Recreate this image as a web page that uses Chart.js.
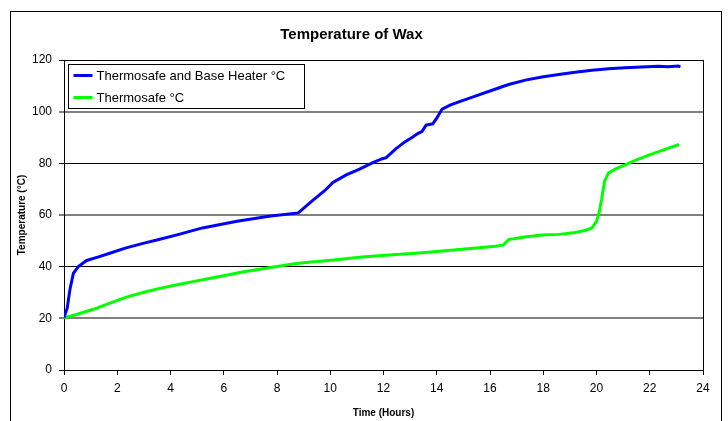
<!DOCTYPE html>
<html>
<head>
<meta charset="utf-8">
<title>Temperature of Wax</title>
<script src="https://cdn.jsdelivr.net/npm/chart.js@4/dist/chart.umd.min.js"></script>
<style>
  html, body { margin: 0; padding: 0; background: #fff; }
  canvas { display: block; }
</style>
</head>
<body>
<canvas id="chart" width="728" height="421"></canvas>
<script>
// values (hours, °C)
const blueHours = [0, 0.12, 0.22, 0.35, 0.54, 0.85, 1.3, 1.72, 2.3, 2.97, 3.6, 4.28, 5.2, 6.5, 7.7, 8.8,
  9.3, 9.8, 10.1, 10.6, 11.1, 11.6, 11.96, 12.1, 12.46, 12.8, 13.1, 13.27, 13.45, 13.6, 13.85, 14.0,
  14.2, 14.5, 14.83, 15.5, 16.08, 16.7, 17.33, 17.95, 18.58, 19.2, 19.83, 20.45, 21.07, 21.7, 22.32,
  22.7, 23.07, 23.15];
const blueTemps = [20.3, 23.9, 31, 37.4, 40, 42.4, 43.8, 45.2, 47.2, 49, 50.6, 52.4, 55, 57.6, 59.5, 60.8,
  65.3, 69.5, 72.6, 75.5, 77.8, 80.3, 81.8, 82.2, 85.6, 88.3, 90.2, 91.4, 92.4, 94.8, 95.3, 97.5,
  101, 102.5, 103.8, 106.2, 108.3, 110.5, 112.2, 113.4, 114.4, 115.3, 116, 116.6, 117, 117.3, 117.6,
  117.4, 117.7, 117.3];

const greenHours = [0, 0.5, 1.1, 1.7, 2.35, 3, 3.6, 4.2, 4.84, 5.5, 6.09, 6.7, 7.34, 8, 8.59, 9.2, 9.84,
  10.5, 11.09, 11.8, 12.5, 13.2, 14, 14.83, 15.6, 16.2, 16.5, 16.7, 17.3, 17.95, 18.6, 19.2, 19.6,
  19.83, 20, 20.1, 20.2, 20.3, 20.45, 20.7, 21.07, 21.5, 22.07, 22.6, 23.1];
const greenTemps = [20.2, 21.6, 23.5, 25.8, 28.2, 30.1, 31.6, 32.9, 34.2, 35.5, 36.7, 37.9, 39, 40.1, 41, 41.7, 42.3,
  43, 43.6, 44.2, 44.7, 45.2, 45.9, 46.6, 47.3, 47.9, 48.4, 50.5, 51.5, 52.3, 52.5, 53.2, 54.1,
  55, 57.5, 61, 66.5, 73, 76.2, 77.8, 79.4, 81.3, 83.6, 85.5, 87.3];

const seriesLabels = ["Thermosafe and Base Heater °C", "Thermosafe °C"];
const xTicks = { min: 0, max: 24, step: 2 };
const yTicks = { min: 0, max: 120, step: 20 };

const FONT = "Arial, 'Liberation Sans', sans-serif";
const toPoints = (xs, ys) => xs.map((x, i) => ({ x, y: ys[i] }));
// every other gridline is a heavier grey one in the original
const isGrey = (v) => (v / yTicks.step) % 2 === 1;

// outer frame + right edge of the plot
const framePlugin = {
  id: "frame",
  beforeDraw(chart) {
    const c = chart.ctx;
    c.save();
    c.fillStyle = "#fff";
    c.fillRect(0, 0, chart.width, chart.height);
    c.strokeStyle = "#000";
    c.lineWidth = 1;
    c.strokeRect(10.5, 11.5, 711, 430);
    c.restore();
  },
  afterDraw(chart) {
    const { right, top, bottom } = chart.chartArea;
    const c = chart.ctx;
    c.save();
    c.strokeStyle = "#000";
    c.lineWidth = 1;
    c.beginPath();
    c.moveTo(Math.round(right) + 0.5, top);
    c.lineTo(Math.round(right) + 0.5, bottom);
    c.stroke();
    c.restore();
  },
};

// boxed legend inside the plot, top left
const boxLegend = {
  id: "boxLegend",
  afterDraw(chart) {
    const c = chart.ctx;
    const x = Math.round(chart.chartArea.left) + 4.5;
    const y = Math.round(chart.chartArea.top) + 4.5;
    c.save();
    c.fillStyle = "#fff";
    c.fillRect(x, y, 236, 44);
    c.strokeStyle = "#000";
    c.lineWidth = 1;
    c.strokeRect(x, y, 236, 44);
    c.font = "13px " + FONT;
    c.textBaseline = "middle";
    chart.data.datasets.forEach((ds, i) => {
      const ly = y + 11 + i * 22;
      c.strokeStyle = ds.borderColor;
      c.lineWidth = 3;
      c.beginPath();
      c.moveTo(x + 5, ly);
      c.lineTo(x + 24, ly);
      c.stroke();
      c.fillStyle = "#000";
      c.fillText(ds.label, x + 28, ly + 1);
    });
    c.restore();
  },
};

new Chart(document.getElementById("chart"), {
  type: "line",
  data: {
    datasets: [
      { label: seriesLabels[0], data: toPoints(blueHours, blueTemps), borderColor: "#0000FF",
        borderWidth: 3, pointRadius: 0, tension: 0 },
      { label: seriesLabels[1], data: toPoints(greenHours, greenTemps), borderColor: "#00FF00",
        borderWidth: 3, pointRadius: 0, tension: 0 },
    ],
  },
  options: {
    responsive: false,
    animation: false,
    devicePixelRatio: 1,
    layout: { padding: { left: 0, right: 25, top: 0, bottom: 0 } },
    plugins: {
      legend: { display: false },
      tooltip: { enabled: false },
      title: {
        display: true,
        text: "Temperature of Wax",
        color: "#000",
        font: { family: FONT, size: 15, weight: "bold" },
        padding: { top: 26, bottom: 16 },
      },
    },
    scales: {
      x: {
        type: "linear",
        min: xTicks.min, max: xTicks.max,
        ticks: { stepSize: xTicks.step, color: "#000", font: { family: FONT, size: 12 }, padding: 6, maxRotation: 0 },
        grid: { drawOnChartArea: false, tickLength: 5, color: "#000", tickColor: "#000" },
        border: { color: "#000", width: 1 },
        title: { display: true, text: "Time (Hours)", color: "#000",
          font: { family: FONT, size: 10, weight: "bold" }, padding: { top: 0, bottom: 2 } },
        afterFit: (s) => { s.height = 51; },
      },
      y: {
        min: yTicks.min, max: yTicks.max,
        ticks: { stepSize: yTicks.step, color: "#000", font: { family: FONT, size: 12 }, padding: 7 },
        grid: {
          tickLength: 5,
          tickColor: "#000",
          tickWidth: 1,
          color: (ctx) => (isGrey(ctx.tick.value) ? "#808080" : "#000"),
          lineWidth: (ctx) => (isGrey(ctx.tick.value) ? 2 : 1),
        },
        border: { color: "#000", width: 1 },
        title: { display: true, text: "Temperature (°C)", color: "#000",
          font: { family: FONT, size: 10, weight: "bold" }, padding: { top: 16, bottom: 0 } },
        afterFit: (s) => { s.width = 64; },
      },
    },
  },
  plugins: [framePlugin, boxLegend],
});
</script>
</body>
</html>
